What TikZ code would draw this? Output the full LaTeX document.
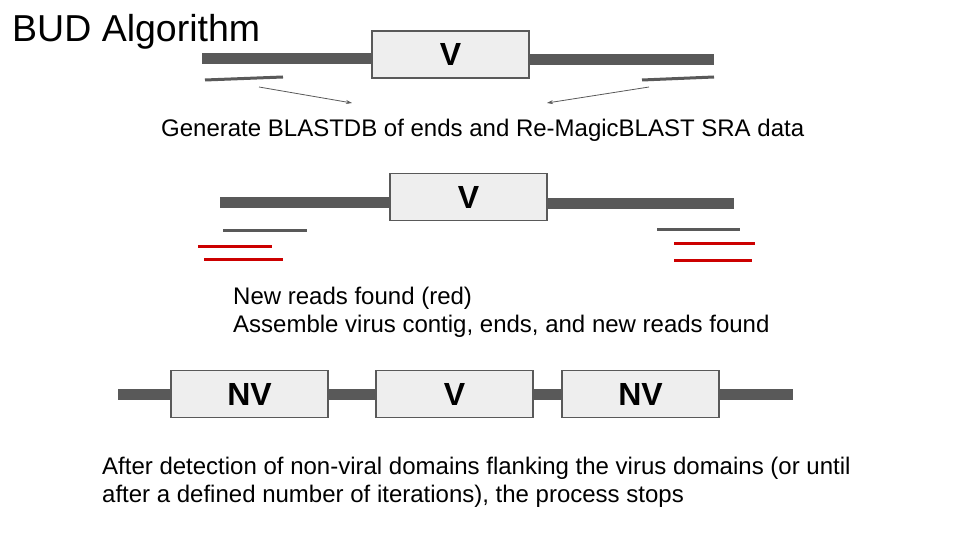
\documentclass[tikz,border=0pt]{standalone}
\usepackage{fontspec}
\setmainfont{Liberation Sans}
\usetikzlibrary{arrows.meta}
\definecolor{bargray}{HTML}{595959}
\definecolor{boxfill}{HTML}{EEEEEE}
\definecolor{readred}{HTML}{CC0000}
\tikzset{
  domainbox/.style={draw=bargray, line width=1.2pt, fill=boxfill, minimum width=157pt, minimum height=47pt, inner sep=0pt, font=\fontsize{32}{36}\selectfont\bfseries},
  strand/.style={draw=bargray, line width=11pt},
  endread/.style={draw=bargray, line width=3pt},
  newread/.style={draw=readred, line width=3pt},
  pointer/.style={draw=bargray, line width=0.8pt, -{Stealth[length=6pt,width=4pt]}},
  caption/.style={anchor=base west, inner sep=0pt, font=\fontsize{24}{28}\selectfont},
}
\begin{document}
\begin{tikzpicture}[x=1pt,y=-1pt]
\useasboundingbox (0,0) rectangle (960,540);
% title
\node[anchor=base west, inner sep=0pt, font=\fontsize{37.5}{42}\selectfont] (title) at (12,42) {BUD Algorithm};
% panel 1
\node[domainbox] (v1) at (450.5,54.5) {V};
\coordinate (l1) at (202,59);
\coordinate (r1) at (714,60);
\draw[strand] (l1) -- (v1.west |- l1);
\draw[strand] (v1.east |- r1) -- (r1);
\coordinate (e1a) at (205,80); \coordinate (e1b) at (283,77);
\coordinate (e2a) at (642,80); \coordinate (e2b) at (714,77);
\draw[endread] (e1a) -- (e1b);
\draw[endread] (e2a) -- (e2b);
\coordinate (p1a) at (259,87); \coordinate (p1b) at (352,103);
\coordinate (p2a) at (649,87); \coordinate (p2b) at (547,103);
\draw[pointer] (p1a) -- (p1b);
\draw[pointer] (p2a) -- (p2b);
\node[caption] (gen) at (161,137) {Generate BLASTDB of ends and Re-MagicBLAST SRA data};
% panel 2
\node[domainbox] (v2) at (468.5,197) {V};
\coordinate (l2) at (220,202);
\coordinate (r2) at (734,203);
\draw[strand] (l2) -- (v2.west |- l2);
\draw[strand] (v2.east |- r2) -- (r2);
\coordinate (g1a) at (223,230); \coordinate (g1b) at (307,230);
\coordinate (g2a) at (657,229); \coordinate (g2b) at (740,229);
\draw[endread] (g1a) -- (g1b);
\draw[endread] (g2a) -- (g2b);
\coordinate (ra) at (198,246); \coordinate (rb) at (272,246);
\coordinate (rc) at (204,259); \coordinate (rd) at (283,259);
\coordinate (re) at (674,243); \coordinate (rf) at (755,243);
\coordinate (rg) at (674,260); \coordinate (rh) at (752,260);
\draw[newread] (ra) -- (rb);
\draw[newread] (rc) -- (rd);
\draw[newread] (re) -- (rf);
\draw[newread] (rg) -- (rh);
\node[caption] (newreads) at (233,304) {New reads found (red)};
\node[caption] (assemble) at (233,332) {Assemble virus contig, ends, and new reads found};
% panel 3
\node[domainbox] (nv1) at (249.5,394) {NV};
\node[domainbox] (v3) at (454.5,394) {V};
\node[domainbox] (nv2) at (640.5,394) {NV};
\coordinate (l3) at (118,394);
\coordinate (r3) at (793,394);
\draw[strand] (l3) -- (nv1.west);
\draw[strand] (nv1.east) -- (v3.west);
\draw[strand] (v3.east) -- (nv2.west);
\draw[strand] (nv2.east) -- (r3);
\node[caption] (after1) at (102,474) {After detection of non-viral domains flanking the virus domains (or until};
\node[caption] (after2) at (102,502) {after a defined number of iterations), the process stops};
\end{tikzpicture}
\end{document}
